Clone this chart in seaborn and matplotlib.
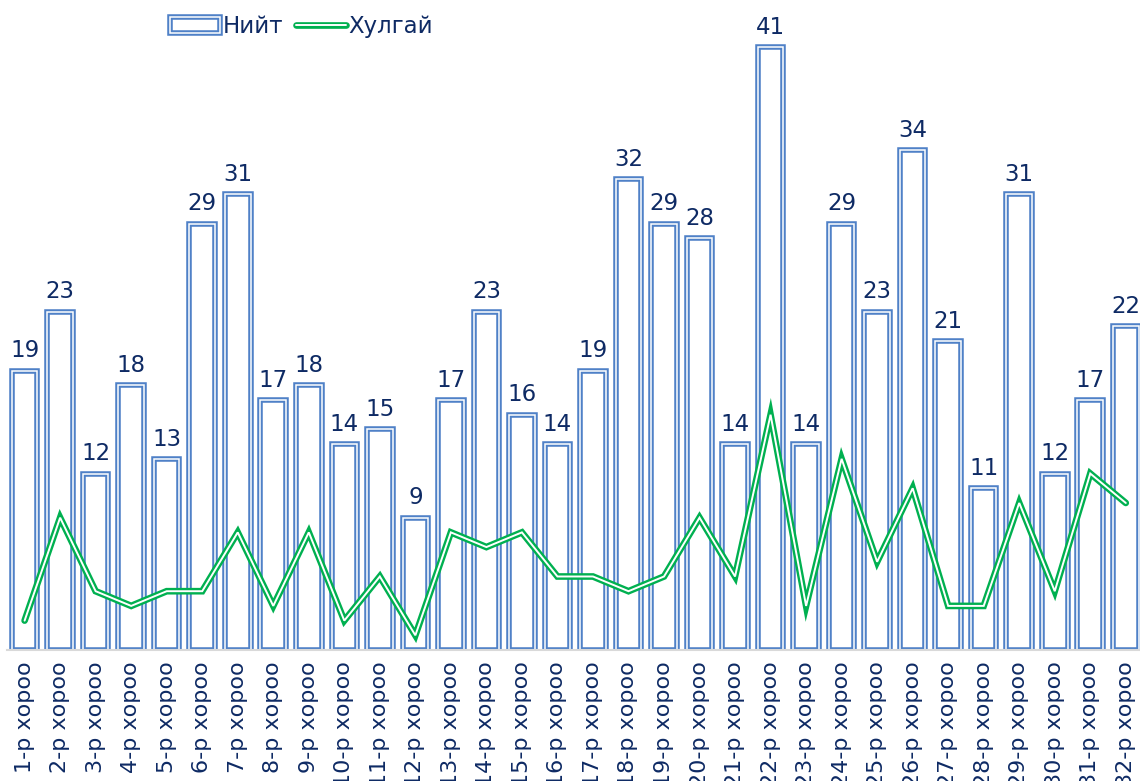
import matplotlib
matplotlib.use('Agg')
import matplotlib.pyplot as plt
import matplotlib.patheffects as pe
from matplotlib.patches import Patch
from matplotlib.lines import Line2D
import numpy as np
import seaborn as sns

# Data
districts = [f'{i}-р хороо' for i in range(1, 33)]
total = [19, 23, 12, 18, 13, 29, 31, 17, 18, 14, 15, 9, 17, 23, 16, 14,
         19, 32, 29, 28, 14, 41, 14, 29, 23, 34, 21, 11, 31, 12, 17, 22]
theft = [2, 9, 4, 3, 4, 4, 8, 3, 8, 2, 5, 1, 8, 7, 8, 5,
         5, 4, 5, 9, 5, 16, 3, 13, 6, 11, 3, 3, 10, 4, 12, 10]

navy = '#0E2A64'
blue = '#4F81C7'
green = '#00B050'

sns.set_style('white')
plt.rcParams['font.family'] = ['DejaVu Sans']

fig = plt.figure(figsize=(11.4, 7.81), dpi=100)
ax = fig.add_axes([0.006, 0.1677, 0.994, 0.8323])

sns.barplot(x=districts, y=total, color='white', edgecolor='white',
            linewidth=1.1, width=0.72, saturation=1, ax=ax)
# double outline: thick blue stroke with thin white line on top
bar_fx = [pe.Stroke(linewidth=4.0, foreground=blue), pe.Normal()]
for p in ax.patches:
    p.set_facecolor('none')
    p.set_path_effects(bar_fx)

line_fx = [pe.Stroke(linewidth=4.8, foreground=green), pe.Normal()]
ax.plot(np.arange(len(theft)), theft, color='white', linewidth=1.4,
        path_effects=line_fx, solid_joinstyle='miter')

ax.bar_label(ax.containers[0], labels=[str(v) for v in total], padding=6,
             fontsize=16.5, color=navy)

ax.set_xlim(-0.5, 31.4)
ax.set_ylim(0, 44.2)
ax.set_yticks([])
ax.set_xlabel('')
ax.set_ylabel('')
for s in ['top', 'right', 'left']:
    ax.spines[s].set_visible(False)
ax.spines['bottom'].set_color('#D9D9D9')
ax.spines['bottom'].set_linewidth(1.5)
ax.tick_params(axis='x', length=0, pad=8)
plt.setp(ax.get_xticklabels(), rotation=90, fontsize=16, color=navy)

handles = [
    Patch(facecolor='none', edgecolor='white', linewidth=1.1, path_effects=bar_fx),
    Line2D([0], [0], color='white', linewidth=1.4, path_effects=line_fx),
]
fig.legend(handles, ['Нийт', 'Хулгай'], loc='center left',
           bbox_to_anchor=(0.131, 0.966), ncol=2, frameon=False,
           fontsize=16.5, labelcolor=navy, handlelength=2.2, handletextpad=0.1,
           columnspacing=0.55)

fig.savefig('out.png', dpi=100)
